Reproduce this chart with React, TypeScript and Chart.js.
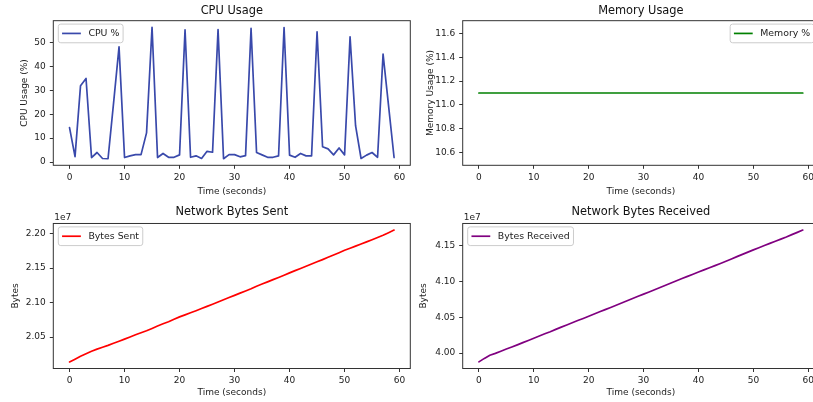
import React, { useEffect, useRef } from 'react';
import { Chart, registerables } from 'chart.js';

Chart.register(...registerables);

// ---------------- data ----------------
const timeSeconds = [
  0, 1, 2, 3, 4, 5, 6, 7, 8, 9, 10, 11, 12, 13, 14, 15, 16, 17, 18, 19,
  20, 21, 22, 23, 24, 25, 26, 27, 28, 29, 30, 31, 32, 33, 34, 35, 36, 37, 38, 39,
  40, 41, 42, 43, 44, 45, 46, 47, 48, 49, 50, 51, 52, 53, 54, 55, 56, 57, 58, 59,
];

const cpuPercent = [
  14.4, 2.3, 31.9, 34.9, 1.9, 4.0, 1.5, 1.4, 24.5, 48.1,
  1.9, 2.6, 3.1, 3.1, 12.2, 56.3, 1.9, 3.6, 2.0, 2.0,
  3.0, 55.2, 2.0, 2.6, 1.5, 4.5, 4.1, 55.3, 1.4, 3.1,
  3.1, 2.2, 2.7, 55.8, 4.0, 3.0, 2.0, 2.0, 2.6, 56.2,
  2.9, 2.0, 3.6, 2.6, 2.6, 54.4, 6.4, 5.5, 3.0, 5.9,
  3.0, 52.3, 15.2, 1.5, 2.9, 4.0, 2.0, 45.1, 23.5, 1.9,
];

const memoryPercent = [
  11.1, 11.1, 11.1, 11.1, 11.1, 11.1, 11.1, 11.1, 11.1, 11.1,
  11.1, 11.1, 11.1, 11.1, 11.1, 11.1, 11.1, 11.1, 11.1, 11.1,
  11.1, 11.1, 11.1, 11.1, 11.1, 11.1, 11.1, 11.1, 11.1, 11.1,
  11.1, 11.1, 11.1, 11.1, 11.1, 11.1, 11.1, 11.1, 11.1, 11.1,
  11.1, 11.1, 11.1, 11.1, 11.1, 11.1, 11.1, 11.1, 11.1, 11.1,
  11.1, 11.1, 11.1, 11.1, 11.1, 11.1, 11.1, 11.1, 11.1, 11.1,
];

const bytesSent = [
  20140000, 20180000, 20222000, 20258000, 20295000, 20325000, 20352000, 20380000, 20410000, 20440000,
  20470000, 20502000, 20533000, 20562000, 20592000, 20625000, 20660000, 20692000, 20722000, 20758000,
  20792000, 20822000, 20852000, 20882000, 20913000, 20945000, 20976000, 21008000, 21040000, 21072000,
  21104000, 21136000, 21168000, 21200000, 21237000, 21268000, 21300000, 21332000, 21364000, 21396000,
  21430000, 21462000, 21494000, 21526000, 21558000, 21590000, 21622000, 21655000, 21688000, 21722000,
  21757000, 21787000, 21817000, 21848000, 21879000, 21910000, 21942000, 21975000, 22012000, 22050000,
];

const bytesReceived = [
  39876000, 39925000, 39968000, 39995000, 40025000, 40055000, 40084000, 40114000, 40145000, 40175000,
  40206000, 40237000, 40268000, 40298000, 40330000, 40361000, 40392000, 40422000, 40453000, 40483000,
  40514000, 40545000, 40575000, 40606000, 40636000, 40667000, 40698000, 40729000, 40760000, 40792000,
  40822000, 40852000, 40883000, 40914000, 40946000, 40977000, 41008000, 41039000, 41070000, 41100000,
  41130000, 41160000, 41190000, 41220000, 41250000, 41281000, 41313000, 41345000, 41377000, 41408000,
  41440000, 41470000, 41500000, 41530000, 41560000, 41590000, 41620000, 41652000, 41684000, 41716000,
];

const xTicks = [0, 10, 20, 30, 40, 50, 60];
const cpuTicks = [0, 10, 20, 30, 40, 50];
const memTicks = [10.6, 10.8, 11.0, 11.2, 11.4, 11.6];
const sentTicks = [20500000, 21000000, 21500000, 22000000];
const recvTicks = [40000000, 40500000, 41000000, 41500000];

// ---------------- helpers ----------------
const FONT = '"DejaVu Sans", sans-serif';
const TEXT = '#222';
const SPINE = '#333';

function mplRange(values: number[]): [number, number] {
  let lo = Math.min(...values);
  let hi = Math.max(...values);
  if (hi - lo < 1e-12) {
    lo -= Math.abs(lo) * 0.05;
    hi += Math.abs(hi) * 0.05;
  }
  const m = (hi - lo) * 0.05;
  return [lo - m, hi + m];
}

const decorPlugin = {
  id: 'mplDecor',
  afterDraw(chart: any, _args: any, opts: any) {
    const { ctx, chartArea: a } = chart;
    ctx.save();
    // full axes frame
    ctx.strokeStyle = SPINE;
    ctx.lineWidth = 1;
    ctx.strokeRect(a.left, a.top, a.right - a.left, a.bottom - a.top);

    // legend
    const ds = chart.data.datasets[0];
    const fs = 9.4;
    ctx.font = `${fs}px ${FONT}`;
    const tw = ctx.measureText(ds.label).width;
    const pad = 0.4 * fs;
    const hl = 2 * fs;
    const htp = 0.8 * fs;
    const w = pad * 2 + hl + htp + tw;
    const h = 18.7;
    const x = opts.legendSide === 'right' ? a.right - 5 - w : a.left + 5;
    const y = a.top + 3.4;
    ctx.beginPath();
    (ctx as any).roundRect(x, y, w, h, 2.5);
    ctx.fillStyle = 'rgba(255,255,255,0.8)';
    ctx.fill();
    ctx.strokeStyle = '#cccccc';
    ctx.lineWidth = 1;
    ctx.stroke();
    ctx.beginPath();
    ctx.moveTo(x + pad, y + h / 2);
    ctx.lineTo(x + pad + hl, y + h / 2);
    ctx.strokeStyle = ds.borderColor;
    ctx.lineWidth = 1.7;
    ctx.stroke();
    ctx.fillStyle = TEXT;
    ctx.textAlign = 'left';
    ctx.textBaseline = 'middle';
    ctx.fillText(ds.label, x + pad + hl + htp, y + h / 2 + 0.5);

    // offset text (scientific multiplier)
    if (opts.offsetText) {
      ctx.font = `9px ${FONT}`;
      ctx.textBaseline = 'bottom';
      ctx.fillText(opts.offsetText, a.left + 1, a.top - 1.5);
    }
    ctx.restore();
  },
};

type Panel = {
  key: string;
  left: number;
  top: number;
  width: number;
  height: number;
  title: string;
  label: string;
  color: string;
  values: number[];
  yTicks: number[];
  yTitle: string;
  fmt: (v: number) => string;
  yAxisWidth: number;
  padRight: number;
  xAxisHeight: number;
  titleTop: number;
  titleBottom: number;
  yTitlePad: number;
  xTitlePad: number;
  legendSide: 'left' | 'right';
  offsetText?: string;
};

const panels: Panel[] = [
  {
    key: 'cpu', left: 0, top: 0, width: 415, height: 201,
    title: 'CPU Usage', label: 'CPU %', color: '#3949ab', values: cpuPercent,
    yTicks: cpuTicks, yTitle: 'CPU Usage (%)', fmt: (v) => String(Math.round(v)),
    yAxisWidth: 53.3, padRight: 4.7, xAxisHeight: 35.7, titleTop: 4, titleBottom: 3,
    yTitlePad: 18.8, xTitlePad: 3.9, legendSide: 'left',
  },
  {
    key: 'mem', left: 415, top: 0, width: 425, height: 201,
    title: 'Memory Usage', label: 'Memory %', color: '#008000', values: memoryPercent,
    yTicks: memTicks, yTitle: 'Memory Usage (%)', fmt: (v) => v.toFixed(1),
    yAxisWidth: 47.7, padRight: 21, xAxisHeight: 35.7, titleTop: 4, titleBottom: 3,
    yTitlePad: 10.6, xTitlePad: 3.9, legendSide: 'right',
  },
  {
    key: 'sent', left: 0, top: 201, width: 415, height: 201,
    title: 'Network Bytes Sent', label: 'Bytes Sent', color: '#ff0000', values: bytesSent,
    yTicks: sentTicks, yTitle: 'Bytes', fmt: (v) => (v / 1e7).toFixed(2),
    yAxisWidth: 53.3, padRight: 4.7, xAxisHeight: 33.5, titleTop: 4.5, titleBottom: 4.3,
    yTitlePad: 10.3, xTitlePad: 4.1, legendSide: 'left', offsetText: '1e7',
  },
  {
    key: 'recv', left: 415, top: 201, width: 425, height: 201,
    title: 'Network Bytes Received', label: 'Bytes Received', color: '#800080', values: bytesReceived,
    yTicks: recvTicks, yTitle: 'Bytes', fmt: (v) => (v / 1e7).toFixed(2),
    yAxisWidth: 47.7, padRight: 21, xAxisHeight: 33.5, titleTop: 4.5, titleBottom: 4.3,
    yTitlePad: 3.6, xTitlePad: 4.1, legendSide: 'left', offsetText: '1e7',
  },
];

function makeConfig(p: Panel): any {
  const [ymin, ymax] = mplRange(p.values);
  const [xmin, xmax] = mplRange(timeSeconds);
  const tickFont = { family: FONT, size: 9 };
  return {
    type: 'line',
    data: {
      datasets: [
        {
          label: p.label,
          data: timeSeconds.map((t, i) => ({ x: t, y: p.values[i] })),
          borderColor: p.color,
          backgroundColor: p.color,
          borderWidth: 1.7,
          pointRadius: 0,
          tension: 0,
          fill: false,
          borderJoinStyle: 'round',
          borderCapStyle: 'round',
        },
      ],
    },
    options: {
      animation: false,
      responsive: false,
      events: [],
      layout: { padding: { left: 0, top: 0, right: p.padRight, bottom: 0 } },
      plugins: {
        legend: { display: false },
        tooltip: { enabled: false },
        title: {
          display: true,
          text: p.title,
          fullSize: false,
          color: '#111',
          font: { family: FONT, size: 11.4, weight: 'normal' },
          padding: { top: p.titleTop, bottom: p.titleBottom },
        },
        mplDecor: { legendSide: p.legendSide, offsetText: p.offsetText },
      },
      scales: {
        x: {
          type: 'linear',
          min: xmin,
          max: xmax,
          afterBuildTicks: (s: any) => {
            s.ticks = xTicks.map((v) => ({ value: v }));
          },
          afterFit: (s: any) => {
            s.height = p.xAxisHeight;
          },
          ticks: {
            autoSkip: false,
            maxRotation: 0,
            padding: 3,
            color: TEXT,
            font: tickFont,
            callback: (v: any) => String(v),
          },
          grid: {
            display: true,
            drawOnChartArea: false,
            drawTicks: true,
            tickLength: 3.5,
            tickColor: SPINE,
            color: SPINE,
          },
          border: { display: false },
          title: {
            display: true,
            text: 'Time (seconds)',
            color: TEXT,
            font: { family: FONT, size: 9 },
            padding: { top: 0, bottom: p.xTitlePad },
          },
        },
        y: {
          type: 'linear',
          min: ymin,
          max: ymax,
          afterBuildTicks: (s: any) => {
            s.ticks = p.yTicks.map((v) => ({ value: v }));
          },
          afterFit: (s: any) => {
            s.width = p.yAxisWidth;
          },
          ticks: {
            autoSkip: false,
            padding: 4,
            color: TEXT,
            font: tickFont,
            callback: (v: any) => p.fmt(Number(v)),
          },
          grid: {
            display: true,
            drawOnChartArea: false,
            drawTicks: true,
            tickLength: 3.5,
            tickColor: SPINE,
            color: SPINE,
          },
          border: { display: false },
          title: {
            display: true,
            text: p.yTitle,
            color: TEXT,
            font: { family: FONT, size: 9 },
            padding: { top: p.yTitlePad, bottom: 0 },
          },
        },
      },
    },
    plugins: [decorPlugin],
  };
}

function PanelChart({ p }: { p: Panel }) {
  const ref = useRef<HTMLCanvasElement | null>(null);
  useEffect(() => {
    if (!ref.current) return;
    const chart = new Chart(ref.current, makeConfig(p));
    return () => chart.destroy();
  }, [p]);
  return (
    <div
      style={{
        position: 'absolute',
        left: p.left,
        top: p.top,
        width: p.width,
        height: p.height,
      }}
    >
      <canvas
        ref={ref}
        width={p.width}
        height={p.height}
        style={{ width: p.width, height: p.height, display: 'block' }}
      />
    </div>
  );
}

export default function App() {
  return (
    <div
      style={{
        position: 'fixed',
        left: 0,
        top: 0,
        width: 813,
        height: 402,
        overflow: 'hidden',
        background: '#ffffff',
      }}
    >
      {panels.map((p) => (
        <PanelChart key={p.key} p={p} />
      ))}
    </div>
  );
}
